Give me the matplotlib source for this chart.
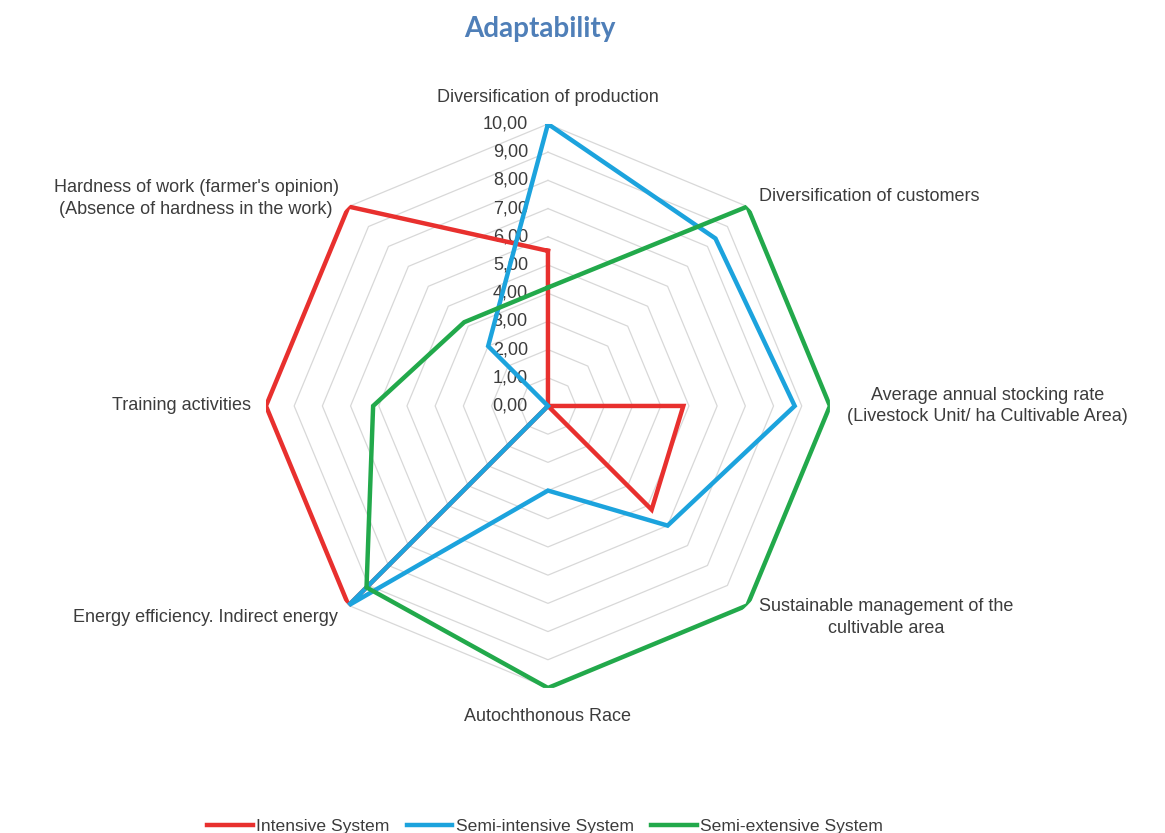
import numpy as np
import matplotlib
matplotlib.use("Agg")
import matplotlib.pyplot as plt

plt.rcParams['font.family'] = ['Liberation Sans', 'DejaVu Sans']

categories = [
    "Diversification of production",
    "Diversification of customers",
    "Average annual stocking rate\n(Livestock Unit/ ha Cultivable Area)",
    "Sustainable management of the\ncultivable area",
    "Autochthonous Race",
    "Energy efficiency. Indirect energy",
    "Training activities",
    "Hardness of work (farmer's opinion)\n(Absence of hardness in the work)",
]
intensive = [5.5, 0.0, 4.8, 5.2, 0.0, 10.0, 10.0, 10.0]
semi_intensive = [10.0, 8.4, 8.75, 6.0, 3.0, 10.0, 0.0, 3.0]
semi_extensive = [4.2, 10.0, 10.0, 10.0, 10.0, 9.1, 6.2, 4.2]
series_names = ["Intensive System", "Semi-intensive System", "Semi-extensive System"]
colors = ["#e8302e", "#1ca3dd", "#22a94b"]
rings = [1, 2, 3, 4, 5, 6, 7, 8, 9, 10]
tick_labels = ["%.2f" % v for v in [0] + rings]
tick_labels = [t.replace(".", ",") for t in tick_labels]

# label placement (pixel offsets from the outer vertex)
label_offsets = [(0, 26), (12, 10), (17, 0), (12, -12), (0, -29), (-11, -12), (-15, 0), (-10, 8)]
label_ha = ["center", "left", "left", "left", "center", "right", "right", "right"]

n = len(categories)
angles = np.linspace(0, 2 * np.pi, n, endpoint=False)
closed = np.append(angles, angles[0])

fig = plt.figure(figsize=(11.65, 8.33), dpi=100)
ax = fig.add_axes([0.2283, 0.1741, 0.4841, 0.6771], projection="polar")
ax.set_theta_zero_location("N")
ax.set_theta_direction(-1)
ax.set_ylim(0, 10)
ax.grid(False)
ax.spines["polar"].set_visible(False)
ax.set_xticks([])
ax.set_yticks([])

# octagon grid
for r in rings:
    ax.plot(closed, [r] * (n + 1), color="#d8d8d8", lw=0.9, zorder=1)

for vals, name, c in zip([intensive, semi_intensive, semi_extensive], series_names, colors):
    ax.plot(closed, vals + vals[:1], color=c, lw=3.2, label=name, zorder=3,
            solid_joinstyle="miter")

# radial tick labels on the vertical axis
for r, t in zip([0] + rings, tick_labels):
    ax.annotate(t, xy=(0, r), xytext=(-20, 0), textcoords="offset pixels",
                ha="right", va="center", fontsize=13, color="#3c3c3c", zorder=2)

for a, lab, off, ha in zip(angles, categories, label_offsets, label_ha):
    ax.annotate(lab, xy=(a, 10), xytext=off, textcoords="offset pixels",
                ha=ha, va="center", multialignment="center",
                fontsize=13, color="#3c3c3c", annotation_clip=False,
                linespacing=1.35)

fig.text(0.463, 0.965, "Adaptability", ha="center", va="center",
         fontsize=20, fontweight="bold", color="#4f7fb8", family="Lato")

fig.legend(loc="lower center", bbox_to_anchor=(0.468, -0.02), ncol=3, frameon=False,
           fontsize=12.6, handlelength=2.6, handletextpad=0.2, columnspacing=1.0,
           labelcolor="#3c3c3c")

fig.savefig("out.png", dpi=100)
